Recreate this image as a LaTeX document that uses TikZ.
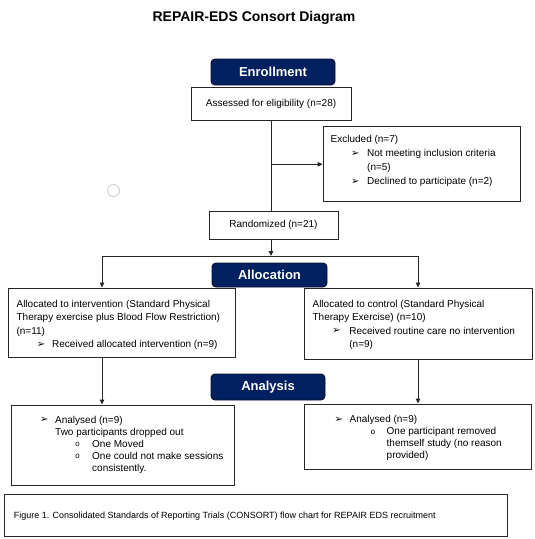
\documentclass[tikz,border=0pt]{standalone}
\usepackage{fontspec}
\setmainfont{Liberation Sans}
\newfontfamily\djv{DejaVu Sans}
\newfontfamily\monof{Liberation Mono}
\usetikzlibrary{arrows.meta}
\definecolor{navy}{HTML}{002060}
\definecolor{navyedge}{HTML}{0A0F2A}
\newcommand\arrb{{\djv\fontsize{10}{10}\selectfont ➢}}
\newcommand\circb{{\monof\fontsize{8}{8}\selectfont o}}
\newcommand\txl[2]{\hbox{\kern#1pt\relax#2}}
\newcommand\bul[4]{\hbox{\kern#1pt\relax\rlap{\raisebox{0.3pt}{#2}}\kern#3pt\relax#4}}
\newcommand\lines[2]{\vtop{\baselineskip=#1pt\lineskiplimit=-100pt\lineskip=0pt\relax#2}}
\tikzset{
  box/.style={draw=black!85, line width=0.9pt, rectangle, inner sep=0pt},
  phase/.style={draw=navyedge, fill=navy, line width=0.9pt, rounded corners=4pt, inner sep=0pt,
    text=white, font=\bfseries\fontsize{13}{13}\selectfont},
  body/.style={inner sep=0pt, anchor=base west, font=\fontsize{10}{12}\selectfont},
  conn/.style={draw=black!85, line width=0.9pt},
  arr/.style={conn, -{Triangle[length=5pt,width=4.5pt]}}
}
\begin{document}
\begin{tikzpicture}[x=1pt,y=-1pt]
\useasboundingbox (0,0) rectangle (535,539);
% title
\node[inner sep=0pt, font=\bfseries\fontsize{14}{14}\selectfont] (title) at (254,18) {REPAIR-EDS Consort Diagram};
% phase headers
\node[phase, minimum width=124pt, minimum height=26pt] (enroll) at (273,72) {Enrollment};
\node[phase, minimum width=115pt, minimum height=24pt] (alloc) at (269.5,275) {Allocation};
\node[phase, minimum width=114pt, minimum height=26pt] (anal) at (268,387) {Analysis};
% boxes
\node[box, minimum width=160pt, minimum height=33pt, font=\fontsize{10}{12}\selectfont] (assessed) at (271,103.5) {Assessed for eligibility (n=28)};
\node[box, minimum width=197pt, minimum height=75pt] (excluded) at (421.5,163.5) {};
\node[box, minimum width=129pt, minimum height=28pt, font=\fontsize{10}{12}\selectfont] (randomized) at (273.5,225) {Randomized (n=21)};
\node[box, minimum width=227pt, minimum height=69pt] (leftalloc) at (121.5,322.5) {};
\node[box, minimum width=228pt, minimum height=71pt] (rightalloc) at (418,323.5) {};
\node[box, minimum width=223pt, minimum height=80pt] (leftana) at (122.5,445) {};
\node[box, minimum width=227pt, minimum height=65pt] (rightana) at (417.5,436.5) {};
\node[box, minimum width=503pt, minimum height=42pt] (caption) at (255.5,515) {};
% box texts
\node[body] (extxt) at (330.5,142.9) {\lines{13.9}{%
  \txl{0}{Excluded (n=7)}%
  \bul{20.5}{\arrb}{16}{Not meeting inclusion criteria}%
  \txl{36.5}{(n=5)}%
  \bul{20.5}{\arrb}{16}{Declined to participate (n=2)}}};
\node[body] (latxt) at (16.4,307) {\lines{13.6}{%
  \txl{0}{Allocated to intervention (Standard Physical}%
  \txl{0}{Therapy exercise plus Blood Flow Restriction)}%
  \txl{0}{(n=11)}%
  \bul{20.4}{\arrb}{15.2}{Received allocated intervention (n=9)}}};
\node[body] (ratxt) at (312.4,307) {\lines{13.6}{%
  \txl{0}{Allocated to control (Standard Physical}%
  \txl{0}{Therapy Exercise) (n=10)}%
  \bul{19.8}{\arrb}{17}{Received routine care no intervention}%
  \txl{36.8}{(n=9)}}};
\node[body] (lntxt) at (40,423) {\lines{12}{%
  \bul{0}{\arrb}{15}{Analysed (n=9)}%
  \txl{15}{Two participants dropped out}%
  \bul{35}{\circb}{17}{One Moved}%
  \bul{35}{\circb}{17}{One could not make sessions}%
  \txl{52}{consistently.}}};
\node[body] (rntxt) at (334.5,422.5) {\lines{12}{%
  \bul{0}{\arrb}{15}{Analysed (n=9)}%
  \bul{36}{\circb}{16}{One participant removed}%
  \txl{52}{themself study (no reason}%
  \txl{52}{provided)}}};
\node[inner sep=0pt, anchor=west, font=\fontsize{9}{11}\selectfont] (captxt) at (13.6,515.8)
  {Figure 1. Consolidated Standards of Reporting Trials (CONSORT) flow chart for REPAIR EDS recruitment};
% stray circle
\node[circle, draw=black!22, line width=0.8pt, minimum size=12pt, inner sep=0pt] (dot) at (113.5,190.5) {};
% connectors
\coordinate (branch) at (271,164.3);
\coordinate (split) at (271,256);
\coordinate (splitL) at (102,256);
\coordinate (splitR) at (418,256);
\draw[conn] (assessed.south) -- (assessed.south |- randomized.north);
\draw[arr] (branch) -- (excluded.west |- branch);
\draw[arr] (randomized.south -| split) -- (split);
\draw[conn] (splitL) -- (splitR);
\draw[arr] (splitL) -- (splitL |- leftalloc.north);
\draw[arr] (splitR) -- (splitR |- rightalloc.north);
\draw[arr] (leftalloc.south -| splitL) -- (splitL |- leftana.north);
\draw[arr] (rightalloc.south -| splitR) -- (splitR |- rightana.north);
\end{tikzpicture}
\end{document}
